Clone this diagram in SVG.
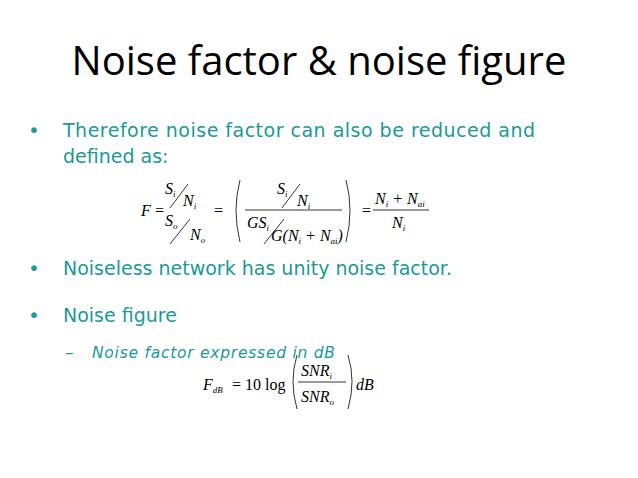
<svg xmlns="http://www.w3.org/2000/svg" width="638" height="478" viewBox="0 0 638 478">
<style>
.t{font-family:"DejaVu Sans",sans-serif;fill:#1a9a96}
.m{font-family:"Liberation Serif",serif;font-style:italic;font-size:16px;fill:#000}
.r{font-family:"Liberation Serif",serif;font-size:16px;fill:#000}
.s{font-size:9px}
.l{stroke:#000;stroke-width:0.8;fill:none}
</style>
<rect width="638" height="478" fill="#fff"/>
<g id="title"><text x="319" y="75" text-anchor="middle" font-family="Open Sans,DejaVu Sans,sans-serif" font-size="40" fill="#000">Noise factor &amp; noise figure</text></g>
<g id="b1"><text class="t" x="28" y="137" font-size="20">•</text><text class="t" x="63" y="137" font-size="19" textLength="472">Therefore noise factor can also be reduced and</text><text class="t" x="63" y="163" font-size="19">defined as:</text></g>
<g id="eq1">
<text class="m" x="141" y="216">F</text><text class="r" x="155" y="216">=</text>
<text class="m" x="165" y="194">S<tspan class="s" dy="3">i</tspan></text><line class="l" x1="170" y1="208" x2="188" y2="184"/><text class="m" x="183" y="206">N<tspan class="s" dy="3">i</tspan></text>
<text class="m" x="165" y="226">S<tspan class="s" dy="3">o</tspan></text><line class="l" x1="170" y1="244" x2="190" y2="219"/><text class="m" x="190" y="240">N<tspan class="s" dy="3">o</tspan></text>
<text class="r" x="214" y="216">=</text>
<path class="l" d="M240 180 Q232 210 240 242"/>
<text class="m" x="277" y="194">S<tspan class="s" dy="3">i</tspan></text><line class="l" x1="282" y1="208" x2="300" y2="184"/><text class="m" x="297" y="206">N<tspan class="s" dy="3">i</tspan></text>
<line class="l" x1="245" y1="210" x2="342" y2="210"/>
<text class="m" x="247" y="228">GS<tspan class="s" dy="3">i</tspan></text><line class="l" x1="264" y1="244" x2="284" y2="219"/><text class="m" x="271" y="241">G(N<tspan class="s" dy="3">i</tspan><tspan dy="-3"> + N</tspan><tspan class="s" dy="3">ai</tspan><tspan dy="-3">)</tspan></text>
<path class="l" d="M346 180 Q354 210 346 242"/>
<text class="r" x="362" y="216">=</text>
<text class="m" x="375" y="204">N<tspan class="s" dy="3">i</tspan><tspan dy="-3"> + N</tspan><tspan class="s" dy="3">ai</tspan></text>
<line class="l" x1="373" y1="210" x2="429" y2="210"/>
<text class="m" x="392" y="228">N<tspan class="s" dy="3">i</tspan></text>
</g>
<g id="b2"><text class="t" x="28" y="275" font-size="20">•</text><text class="t" x="63" y="275" font-size="19">Noiseless network has unity noise factor.</text></g>
<g id="b3"><text class="t" x="28" y="322" font-size="20">•</text><text class="t" x="63" y="322" font-size="19">Noise figure</text>
<text class="t" x="65" y="358" font-size="17">–</text><text class="t" x="92" y="358" font-size="15.5" font-style="italic" textLength="243">Noise factor expressed in dB</text></g>
<g id="eq2">
<text class="m" x="203" y="390">F<tspan class="s" dy="3">dB</tspan></text>
<text class="r" x="232" y="390">= 10 log</text>
<path class="l" d="M297 355 Q289 381 297 409"/>
<text class="m" x="301" y="376">SNR<tspan class="s" dy="3">i</tspan></text>
<line class="l" x1="298" y1="382" x2="346" y2="382"/>
<text class="m" x="301" y="402">SNR<tspan class="s" dy="3">o</tspan></text>
<path class="l" d="M348 355 Q356 381 348 409"/>
<text class="m" x="356" y="390">dB</text>
</g>
</svg>
